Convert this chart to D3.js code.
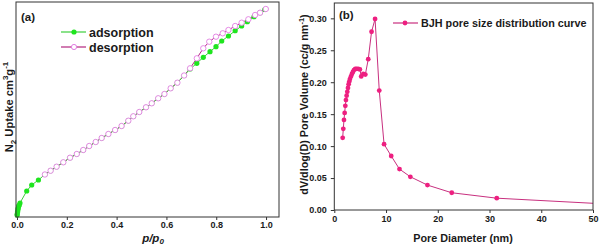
<!DOCTYPE html>
<html>
<head>
<meta charset="utf-8">
<script src="https://cdn.jsdelivr.net/npm/d3@7"></script>
<style>
body{margin:0;background:#fff}
text{font-family:"Liberation Sans",Arial,sans-serif;font-weight:bold;fill:#1a1a1a}
</style>
</head>
<body>
<div id="chart"></div>
<script>
// (a) N2 isotherm, relative pressure vs uptake (no y ticks in original)
var adsP = [0.0005,0.001,0.002,0.003,0.004,0.005,0.007,0.009,0.012,0.039,0.059,0.086,
	0.112,0.135,0.159,0.186,0.213,0.240,0.266,0.290,0.316,0.340,0.367,0.394,0.420,0.447,0.467,0.491,
	0.518,0.541,0.567,0.592,0.617,0.644,0.671,0.695,0.722,0.748,0.775,0.799,0.822,0.849,0.876,0.902,
	0.925,0.952,0.976,0.995];
var adsV = [2,3,5,6,8,9,11,12,14,26,32,37,
	42.5,46.3,50.3,54.7,59.3,63,67,71,75,79,83,87,91,96.3,100.7,105,
	109.7,113.7,118.7,123,128.7,134.3,141.5,148,153.7,159.7,165.3,170.3,176,181,186.3,191,
	195.3,200.3,204.3,207.5];
var desP = [0.112,0.135,0.159,0.186,0.213,0.240,0.266,0.290,0.316,0.340,0.367,0.394,0.420,0.447,0.467,0.491,
	0.518,0.541,0.567,0.592,0.617,0.644,0.671,0.695,0.722,0.748,0.772,0.799,0.826,0.849,0.876,0.902,
	0.929,0.956,0.976,0.999];
var desV = [42.5,46.3,50.3,54.7,59.3,63,67,71,75,79,83,87,91,96.3,100.7,105,
	109.7,113.7,118.7,123,128.7,134.3,141.5,148.7,158.7,168.7,175.3,180.3,183.7,187,191,194.3,
	197.7,202,204.3,208];
var ticksA = [0,0.2,0.4,0.6,0.8,1.0];

// (b) BJH pore size distribution
var poreD = [1.62,1.74,1.87,2.0,2.13,2.25,2.38,2.51,2.64,2.77,2.9,3.02,3.22,3.41,3.6,3.8,4.05,4.31,4.63,4.95,
	5.2,5.6,6.0,6.56,7.2,7.88,8.69,9.62,11.0,12.6,14.7,18.0,22.7,31.4,50];
var poreV = [0.113,0.127,0.141,0.152,0.163,0.172,0.179,0.185,0.191,0.197,0.201,0.205,0.209,0.213,0.216,0.219,0.221,0.221,0.221,0.220,
	0.209,0.213,0.212,0.236,0.279,0.299,0.187,0.103,0.0845,0.064,0.052,0.039,0.027,0.0185,0.0105];
var ticksBX = [0,10,20,30,40,50];
var ticksBY = [0,0.05,0.10,0.15,0.20,0.25,0.30];

(function(){

	var width = 600;
	var height = 246;
	var svg = d3.select("div#chart")
	.append("svg")
	.attr("width",width)
	.attr("height",height)

	// ---------- panel (a) ----------
	var xa = d3.scaleLinear().domain([-0.004,1.052]).range([16,279])
	var ya = d3.scaleLinear().domain([0,215]).range([217,2])

	var ga = svg.append("g")

	ga.append("g")
		.attr("transform","translate(0,217)")
		.call(d3.axisBottom(xa).tickValues(ticksA).tickFormat(d3.format(".1f")).tickSize(3).tickSizeOuter(0).tickPadding(2))
		.call(function(g){
			g.select(".domain").remove()
			g.selectAll("line").attr("stroke","#333")
			g.selectAll("text").attr("font-size",9).attr("font-family",null).attr("fill","#1a1a1a")
		})

	var ads = adsP.map(function(p,i){ return {x:p, y:adsV[i]} })
	var des = desP.map(function(p,i){ return {x:p, y:desV[i]} })
	var lineA = d3.line().x(function(d){ return xa(d.x) }).y(function(d){ return ya(d.y) })

	ga.append("path").datum(des)
		.attr("d",lineA).attr("fill","none").attr("stroke","#b3267f").attr("stroke-width",1)
	ga.append("path").datum(ads)
		.attr("d",lineA).attr("fill","none").attr("stroke","#3ccf3c").attr("stroke-width",1)
	ga.selectAll(".ads").data(ads).enter().append("circle")
		.attr("class","ads")
		.attr("cx",function(d){ return xa(d.x) })
		.attr("cy",function(d){ return ya(d.y) })
		.attr("r",2.6)
		.attr("fill","#1ee51e")
	ga.selectAll(".des").data(des).enter().append("circle")
		.attr("class","des")
		.attr("cx",function(d){ return xa(d.x) })
		.attr("cy",function(d){ return ya(d.y) })
		.attr("r",2.7)
		.attr("fill","#fff")
		.attr("stroke","#e27ee2")
		.attr("stroke-width",0.9)

	ga.append("rect").attr("x",16).attr("y",2).attr("width",263).attr("height",215)
		.attr("fill","none").attr("stroke","#333").attr("stroke-width",1)

	ga.append("text").attr("x",21).attr("y",21).attr("font-size",11.5).text("(a)")

	// legend (a)
	ga.append("line").attr("x1",61).attr("x2",86).attr("y1",32).attr("y2",32).attr("stroke","#3ccf3c").attr("stroke-width",1.2)
	ga.append("circle").attr("cx",74).attr("cy",32).attr("r",2.6).attr("fill","#1ee51e")
	ga.append("text").attr("x",89).attr("y",36.5).attr("font-size",12.5).text("adsorption")
	ga.append("line").attr("x1",61).attr("x2",86).attr("y1",47).attr("y2",47).attr("stroke","#b3267f").attr("stroke-width",1.2)
	ga.append("circle").attr("cx",74).attr("cy",47).attr("r",2.6).attr("fill","#fff").attr("stroke","#e27ee2")
	ga.append("text").attr("x",89).attr("y",51.5).attr("font-size",12.5).text("desorption")

	var xt = ga.append("text").attr("x",153).attr("y",242).attr("text-anchor","middle").attr("font-size",11.5).attr("font-style","italic")
	xt.append("tspan").text("p/p")
	xt.append("tspan").attr("font-size",8).attr("dy",2).text("0")

	var yt = ga.append("text").attr("transform","translate(12.5,107) rotate(-90)").attr("text-anchor","middle").attr("font-size",11.2)
	yt.append("tspan").text("N")
	yt.append("tspan").attr("font-size",8).attr("dy",3).text("2")
	yt.append("tspan").attr("dy",-3).text(" Uptake cm")
	yt.append("tspan").attr("font-size",8).attr("dy",-4.5).text("3")
	yt.append("tspan").attr("dy",4.5).text("g")
	yt.append("tspan").attr("font-size",8).attr("dy",-4.5).text("-1")

	// ---------- panel (b) ----------
	var xb = d3.scaleLinear().domain([0,50]).range([334.3,593])
	var yb = d3.scaleLinear().domain([0,0.324]).range([210,3])

	var gb = svg.append("g")

	gb.append("g")
		.attr("transform","translate(0,210)")
		.call(d3.axisBottom(xb).tickValues(ticksBX).tickSize(3).tickSizeOuter(0).tickPadding(3))
		.call(function(g){
			g.select(".domain").remove()
			g.selectAll("line").attr("stroke","#333")
			g.selectAll("text").attr("font-size",9).attr("font-family",null).attr("fill","#1a1a1a")
		})
	gb.append("g")
		.attr("transform","translate(334.3,0)")
		.call(d3.axisLeft(yb).tickValues(ticksBY).tickFormat(d3.format(".2f")).tickSize(3.5).tickSizeOuter(0).tickPadding(4))
		.call(function(g){
			g.select(".domain").remove()
			g.selectAll("line").attr("stroke","#333")
			g.selectAll("text").attr("font-size",9).attr("font-family",null).attr("fill","#1a1a1a")
		})

	var pore = poreD.map(function(d,i){ return {x:d, y:poreV[i]} })
	var lineB = d3.line().x(function(d){ return xb(d.x) }).y(function(d){ return yb(d.y) })

	gb.append("path").datum(pore)
		.attr("d",lineB).attr("fill","none").attr("stroke","#c8307f").attr("stroke-width",1)
	gb.selectAll(".pore").data(pore.filter(function(d){ return d.x < 50 })).enter().append("circle")
		.attr("class","pore")
		.attr("cx",function(d){ return xb(d.x) })
		.attr("cy",function(d){ return yb(d.y) })
		.attr("r",2.4)
		.attr("fill","#ee1f80")

	gb.append("rect").attr("x",334.3).attr("y",3).attr("width",258.7).attr("height",207)
		.attr("fill","none").attr("stroke","#333").attr("stroke-width",1)

	gb.append("text").attr("x",339).attr("y",19).attr("font-size",11.5).text("(b)")

	gb.append("line").attr("x1",393).attr("x2",418).attr("y1",23).attr("y2",23).attr("stroke","#c8307f").attr("stroke-width",1.2)
	gb.append("circle").attr("cx",405).attr("cy",23).attr("r",2.4).attr("fill","#ee1f80")
	gb.append("text").attr("x",421).attr("y",27).attr("font-size",10.8).text("BJH pore size distribution curve")

	gb.append("text").attr("x",463).attr("y",242).attr("text-anchor","middle").attr("font-size",10.8).text("Pore Diameter (nm)")

	var ybt = gb.append("text").attr("transform","translate(308,104.5) rotate(-90)").attr("text-anchor","middle").attr("font-size",10.8)
	ybt.append("tspan").text("dV/dlog(D) Pore Volume (cc/g nm")
	ybt.append("tspan").attr("font-size",7.5).attr("dy",-4).text("-1")
	ybt.append("tspan").attr("dy",4).text(")")

})();
</script>
</body>
</html>
